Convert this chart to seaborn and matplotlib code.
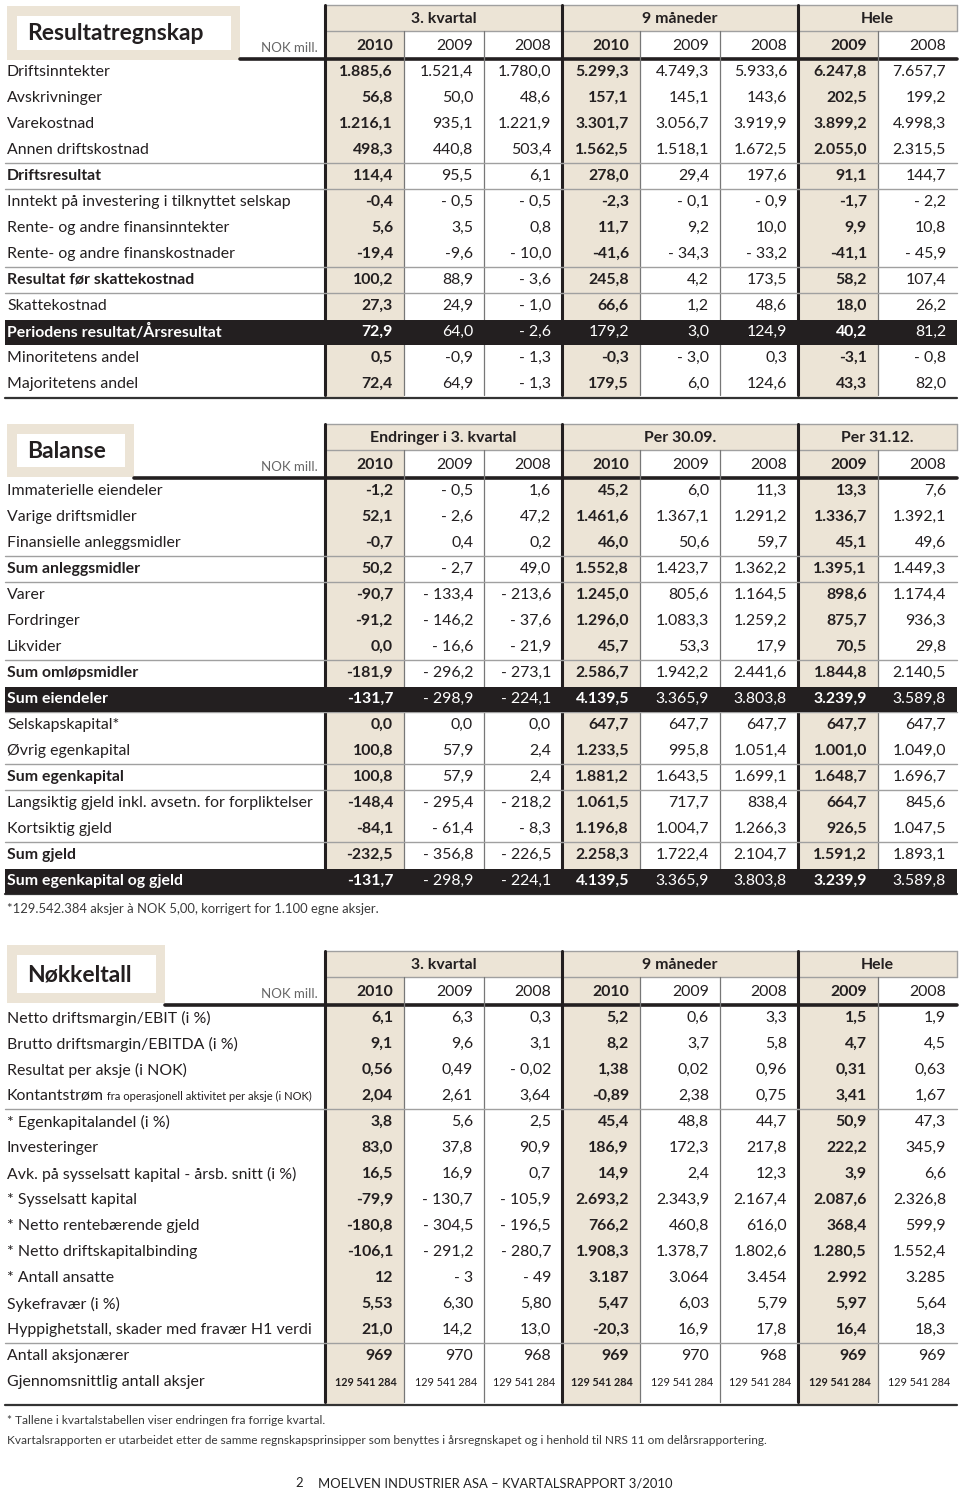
import matplotlib.pyplot as plt
import seaborn as sns
from matplotlib.patches import Rectangle

sns.set_theme(style="white")
plt.rcParams['font.family'] = ['Lato', 'DejaVu Sans']

W, H = 960, 1493
BEIGE = "#ece4d6"
INK = "#231f20"
GRID = "#a0a0a0"
ROW = 26

col_edges = [325, 404, 484, 562, 640, 720, 798, 878, 957]
thick_x = [325, 562, 798]
shade_cols = [0, 3, 6]
years = ["2010", "2009", "2008", "2010", "2009", "2008", "2009", "2008"]

# ---- Resultatregnskap ----
res_groups = ["3. kvartal", "9 måneder", "Hele"]
res_labels = ["Driftsinntekter", "Avskrivninger", "Varekostnad", "Annen driftskostnad",
              "Driftsresultat", "Inntekt på investering i tilknyttet selskap",
              "Rente- og andre finansinntekter", "Rente- og andre finanskostnader",
              "Resultat før skattekostnad", "Skattekostnad",
              "Periodens resultat/Årsresultat", "Minoritetens andel", "Majoritetens andel"]
res_values = [
    ["1.885,6", "1.521,4", "1.780,0", "5.299,3", "4.749,3", "5.933,6", "6.247,8", "7.657,7"],
    ["56,8", "50,0", "48,6", "157,1", "145,1", "143,6", "202,5", "199,2"],
    ["1.216,1", "935,1", "1.221,9", "3.301,7", "3.056,7", "3.919,9", "3.899,2", "4.998,3"],
    ["498,3", "440,8", "503,4", "1.562,5", "1.518,1", "1.672,5", "2.055,0", "2.315,5"],
    ["114,4", "95,5", "6,1", "278,0", "29,4", "197,6", "91,1", "144,7"],
    ["-0,4", "- 0,5", "- 0,5", "-2,3", "- 0,1", "- 0,9", "-1,7", "- 2,2"],
    ["5,6", "3,5", "0,8", "11,7", "9,2", "10,0", "9,9", "10,8"],
    ["-19,4", "-9,6", "- 10,0", "-41,6", "- 34,3", "- 33,2", "-41,1", "- 45,9"],
    ["100,2", "88,9", "- 3,6", "245,8", "4,2", "173,5", "58,2", "107,4"],
    ["27,3", "24,9", "- 1,0", "66,6", "1,2", "48,6", "18,0", "26,2"],
    ["72,9", "64,0", "- 2,6", "179,2", "3,0", "124,9", "40,2", "81,2"],
    ["0,5", "-0,9", "- 1,3", "-0,3", "- 3,0", "0,3", "-3,1", "- 0,8"],
    ["72,4", "64,9", "- 1,3", "179,5", "6,0", "124,6", "43,3", "82,0"],
]
res_bold = [4, 8, 10]
res_black = [10]
res_seps = [3, 4, 7, 8]

# ---- Balanse ----
bal_groups = ["Endringer i 3. kvartal", "Per 30.09.", "Per 31.12."]
bal_labels = ["Immaterielle eiendeler", "Varige driftsmidler", "Finansielle anleggsmidler",
              "Sum anleggsmidler", "Varer", "Fordringer", "Likvider", "Sum omløpsmidler",
              "Sum eiendeler", "Selskapskapital*", "Øvrig egenkapital", "Sum egenkapital",
              "Langsiktig gjeld inkl. avsetn. for forpliktelser", "Kortsiktig gjeld",
              "Sum gjeld", "Sum egenkapital og gjeld"]
bal_values = [
    ["-1,2", "- 0,5", "1,6", "45,2", "6,0", "11,3", "13,3", "7,6"],
    ["52,1", "- 2,6", "47,2", "1.461,6", "1.367,1", "1.291,2", "1.336,7", "1.392,1"],
    ["-0,7", "0,4", "0,2", "46,0", "50,6", "59,7", "45,1", "49,6"],
    ["50,2", "- 2,7", "49,0", "1.552,8", "1.423,7", "1.362,2", "1.395,1", "1.449,3"],
    ["-90,7", "- 133,4", "- 213,6", "1.245,0", "805,6", "1.164,5", "898,6", "1.174,4"],
    ["-91,2", "- 146,2", "- 37,6", "1.296,0", "1.083,3", "1.259,2", "875,7", "936,3"],
    ["0,0", "- 16,6", "- 21,9", "45,7", "53,3", "17,9", "70,5", "29,8"],
    ["-181,9", "- 296,2", "- 273,1", "2.586,7", "1.942,2", "2.441,6", "1.844,8", "2.140,5"],
    ["-131,7", "- 298,9", "- 224,1", "4.139,5", "3.365,9", "3.803,8", "3.239,9", "3.589,8"],
    ["0,0", "0,0", "0,0", "647,7", "647,7", "647,7", "647,7", "647,7"],
    ["100,8", "57,9", "2,4", "1.233,5", "995,8", "1.051,4", "1.001,0", "1.049,0"],
    ["100,8", "57,9", "2,4", "1.881,2", "1.643,5", "1.699,1", "1.648,7", "1.696,7"],
    ["-148,4", "- 295,4", "- 218,2", "1.061,5", "717,7", "838,4", "664,7", "845,6"],
    ["-84,1", "- 61,4", "- 8,3", "1.196,8", "1.004,7", "1.266,3", "926,5", "1.047,5"],
    ["-232,5", "- 356,8", "- 226,5", "2.258,3", "1.722,4", "2.104,7", "1.591,2", "1.893,1"],
    ["-131,7", "- 298,9", "- 224,1", "4.139,5", "3.365,9", "3.803,8", "3.239,9", "3.589,8"],
]
bal_bold = [3, 7, 8, 11, 14, 15]
bal_black = [8, 15]
bal_seps = [2, 3, 6, 8, 10, 11, 13]

# ---- Nøkkeltall ----
nok_groups = ["3. kvartal", "9 måneder", "Hele"]
nok_labels = ["Netto driftsmargin/EBIT (i %)", "Brutto driftsmargin/EBITDA (i %)",
              "Resultat per aksje (i NOK)", "Kontantstrøm",
              "* Egenkapitalandel (i %)", "Investeringer",
              "Avk. på sysselsatt kapital - årsb. snitt (i %)", "* Sysselsatt kapital",
              "* Netto rentebærende gjeld", "* Netto driftskapitalbinding", "* Antall ansatte",
              "Sykefravær (i %)", "Hyppighetstall, skader med fravær H1 verdi",
              "Antall aksjonærer", "Gjennomsnittlig antall aksjer"]
nok_values = [
    ["6,1", "6,3", "0,3", "5,2", "0,6", "3,3", "1,5", "1,9"],
    ["9,1", "9,6", "3,1", "8,2", "3,7", "5,8", "4,7", "4,5"],
    ["0,56", "0,49", "- 0,02", "1,38", "0,02", "0,96", "0,31", "0,63"],
    ["2,04", "2,61", "3,64", "-0,89", "2,38", "0,75", "3,41", "1,67"],
    ["3,8", "5,6", "2,5", "45,4", "48,8", "44,7", "50,9", "47,3"],
    ["83,0", "37,8", "90,9", "186,9", "172,3", "217,8", "222,2", "345,9"],
    ["16,5", "16,9", "0,7", "14,9", "2,4", "12,3", "3,9", "6,6"],
    ["-79,9", "- 130,7", "- 105,9", "2.693,2", "2.343,9", "2.167,4", "2.087,6", "2.326,8"],
    ["-180,8", "- 304,5", "- 196,5", "766,2", "460,8", "616,0", "368,4", "599,9"],
    ["-106,1", "- 291,2", "- 280,7", "1.908,3", "1.378,7", "1.802,6", "1.280,5", "1.552,4"],
    ["12", "- 3", "- 49", "3.187", "3.064", "3.454", "2.992", "3.285"],
    ["5,53", "6,30", "5,80", "5,47", "6,03", "5,79", "5,97", "5,64"],
    ["21,0", "14,2", "13,0", "-20,3", "16,9", "17,8", "16,4", "18,3"],
    ["969", "970", "968", "969", "970", "968", "969", "969"],
    ["129 541 284"] * 8,
]
nok_seps = [3, 12]
kontant_suffix = " fra operasjonell aktivitet per aksje (i NOK)"

fig = plt.figure(figsize=(W / 100, H / 100), dpi=100)
ax = fig.add_axes([0, 0, 1, 1])
ax.set_xlim(0, W)
ax.set_ylim(H, 0)
ax.axis("off")

FS = 11.4


def draw_table(y0, title, box, groups, labels, values, bold_rows=(), black_rows=(),
               seps=(), last_pad=14, small_last=False):
    n = len(labels)
    ys = [y0 + i * ROW for i in range(n)]
    top = y0 - 67
    mid = y0 - 41
    bottom = ys[-1] + last_pad

    # title box
    bx0, by0, bx1, by1 = box
    ax.add_patch(Rectangle((bx0, by0), bx1 - bx0, by1 - by0, fc=BEIGE, ec="none", zorder=1))
    ax.add_patch(Rectangle((bx0 + 10, by0 + 10), bx1 - bx0 - 19, by1 - by0 - 20,
                           fc="white", ec="none", zorder=1))
    ax.text(bx0 + 20, (by0 + by1) / 2 + 1, title, fontsize=16.5, fontweight="bold",
            color=INK, ha="left", va="center", zorder=4)
    ax.text(318, y0 - 24, "NOK mill.", fontsize=9.5, color="#666666",
            ha="right", va="center", zorder=4)

    # header band + shaded columns
    ax.add_patch(Rectangle((col_edges[0], top), col_edges[-1] - col_edges[0], mid - top,
                           fc=BEIGE, ec="none", zorder=1))
    for c in shade_cols:
        ax.add_patch(Rectangle((col_edges[c], mid), col_edges[c + 1] - col_edges[c],
                               bottom - mid, fc=BEIGE, ec="none", zorder=1))

    # lines
    ax.plot([col_edges[0], col_edges[-1]], [top, top], color=GRID, lw=1, zorder=2)
    ax.plot([col_edges[0], col_edges[-1]], [mid, mid], color=GRID, lw=1, zorder=2)
    ax.plot([bx1, col_edges[-1]], [y0 - 13, y0 - 13], color=INK, lw=2.6, zorder=2)
    for x in col_edges[1:-1]:
        if x not in thick_x:
            ax.plot([x, x], [mid, bottom - 3], color="#777777", lw=0.9, zorder=2)
    for x in thick_x:
        ax.plot([x, x], [top, bottom - 3], color=INK, lw=2.2, zorder=2)
    ax.plot([col_edges[-1], col_edges[-1]], [top, mid], color=GRID, lw=1, zorder=2)
    for s in seps:
        yy = ys[s] + ROW / 2
        ax.plot([5, col_edges[-1]], [yy, yy], color=GRID, lw=1, zorder=2)
    ax.plot([5, col_edges[-1]], [bottom, bottom], color="#333333", lw=1.6, zorder=2)

    # black rows
    for r in black_rows:
        ax.add_patch(Rectangle((5, ys[r] - 12.5), col_edges[-1] - 5, 25.5,
                               fc=INK, ec="none", zorder=3))

    # headers
    spans = [(0, 3), (3, 6), (6, 8)]
    for g, (a, b) in zip(groups, spans):
        ax.text((col_edges[a] + col_edges[b]) / 2, (top + mid) / 2 + 1, g, fontsize=FS,
                fontweight="bold", color=INK, ha="center", va="center", zorder=4)
    for j, yr in enumerate(years):
        ax.text(col_edges[j + 1] - 11, (mid + y0 - 13) / 2 + 1, yr, fontsize=FS,
                fontweight="bold" if j in shade_cols else "normal",
                color=INK, ha="right", va="center", zorder=4)

    # body
    for i, (lab, row) in enumerate(zip(labels, values)):
        black = i in black_rows
        col = "white" if black else INK
        ax.text(7, ys[i], lab, fontsize=FS, color=col, ha="left", va="center",
                fontweight="bold" if i in bold_rows else "normal", zorder=4)
        fs = 7.8 if (small_last and i == n - 1) else FS
        for j, v in enumerate(row):
            bold = j in shade_cols
            if black and title == "Resultatregnskap" and j == 3:
                bold = False
            ax.text(col_edges[j + 1] - (7 if fs < FS else 11), ys[i], v, fontsize=fs,
                    color=col, ha="right", va="center",
                    fontweight="bold" if bold else "normal", zorder=4)
    return ys


draw_table(72, "Resultatregnskap", (7, 6, 240, 60), res_groups, res_labels, res_values,
           res_bold, res_black, res_seps, last_pad=14)
draw_table(491, "Balanse", (7, 424, 134, 477), bal_groups, bal_labels, bal_values,
           bal_bold, bal_black, bal_seps, last_pad=13)
draw_table(1018, "Nøkkeltall", (7, 945, 165, 1003), nok_groups, nok_labels,
           nok_values, (), (), nok_seps, last_pad=23, small_last=True)

# small suffix of Kontantstrøm label
kt = [t for t in ax.texts if t.get_text() == "Kontantstrøm"][0]
ax.annotate(kontant_suffix, xy=(1, 0.08), xycoords=kt, fontsize=8, color=INK,
            ha="left", va="bottom", zorder=4)

# footnotes
ax.text(7, 909, "*129.542.384 aksjer à NOK 5,00, korrigert for 1.100 egne aksjer.",
        fontsize=9.4, color="#3a3a3a", ha="left", va="center")
ax.text(7, 1421, "* Tallene i kvartalstabellen viser endringen fra forrige kvartal.",
        fontsize=8.6, color="#3a3a3a", ha="left", va="center")
ax.text(7, 1441, "Kvartalsrapporten er utarbeidet etter de samme regnskapsprinsipper som "
        "benyttes i årsregnskapet og i henhold til NRS 11 om delårsrapportering.",
        fontsize=8.6, color="#3a3a3a", ha="left", va="center")
ax.text(299, 1483, "2", fontsize=9.4, color="#222222", ha="center", va="center")
ax.text(318, 1483, "MOELVEN INDUSTRIER ASA – KVARTALSRAPPORT 3/2010", fontsize=9.4,
        color="#222222", ha="left", va="center")

fig.savefig("out.png", dpi=100, facecolor="white")
